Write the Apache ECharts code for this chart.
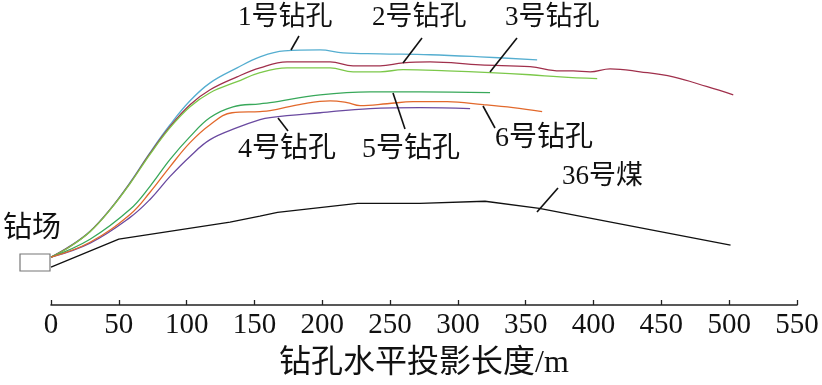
<!DOCTYPE html>
<html>
<head>
<meta charset="utf-8">
<script src="https://cdn.jsdelivr.net/npm/echarts@6/dist/echarts.min.js"></script>
<style>html,body{margin:0;padding:0;background:#fff}#c{width:822px;height:385px}</style>
</head>
<body>
<div id="c"></div>
<script>
// x: horizontal projection length (m); y: relative height (arbitrary units, axis hidden)
const xTicks = [0, 50, 100, 150, 200, 250, 300, 350, 400, 450, 500, 550];
const hole1 = [[0,16],[14,19.7],[28.8,24.7],[43.5,32],[58.3,41],[73,51],[87.8,60.3],[102.5,68.3],[117.3,74.3],[137.2,79.3],[154.1,83],[172,85],[198.4,85.3],[215.3,84.3],[242.6,84],[279.5,83.7],[316.4,83],[358.4,82]];
const hole2 = [[0,16],[14,19.6],[28.8,24.6],[43.5,31.9],[58.3,40.8],[73,50.7],[87.8,59.7],[102.5,67],[117.3,72],[137.2,76.3],[154.1,79.3],[174,81.3],[205.8,81.3],[222.7,80],[242.6,80],[259.6,81],[279.5,81.3],[316.4,80.3],[353.2,79.7],[375.4,78.3],[385,78.3],[397.5,78],[412.2,79],[434.4,78],[458.7,76.3],[483.8,73],[503,70.3]];
const hole3 = [[0,16],[14,19.5],[28.8,24.5],[43.5,31.8],[58.3,40.6],[73,50.4],[87.8,59.3],[102.5,66.3],[117.3,71],[137.2,74.7],[154.1,77.7],[174,79.3],[205.8,79.3],[222.7,78],[242.6,78],[259.6,78.7],[292,78.3],[323.7,77.7],[353.2,77],[375.4,76.3],[402.7,75.7]];
const hole4 = [[0,16],[28.8,20.7],[58.3,29.3],[73,35.3],[87.8,43],[102.5,49.7],[117.3,55.3],[137.2,59.3],[154.1,62],[161.5,62.7],[198.4,64.3],[235.3,65.7],[272.1,66],[309,65.7]];
const hole5 = [[0,16],[28.8,22],[58.3,32],[73,39.7],[87.8,48.7],[102.5,56.3],[117.3,62.7],[134.2,66.3],[154.1,67.3],[161.5,67.7],[198.4,70.3],[235.3,71.3],[272.1,71.3],[323.7,71]];
const hole6 = [[0,16],[28.8,21],[58.3,30.3],[73,37.7],[87.8,46.3],[102.5,54.3],[117.3,60.3],[133.5,64.3],[154.1,64.7],[161.5,65],[185.8,67.3],[205.8,68.3],[218.3,67.7],[227.9,66.7],[247.8,67.3],[267,68],[292,68],[318.6,67],[340.7,66],[362.1,64.7]];
const coal36 = [[0,12.7],[50,22],[132,27.7],[154,29.7],[167,31],[226,34],[272,34],[320,34.7],[360,32.3],[501,20]];
const seriesNames = ['1号钻孔','2号钻孔','3号钻孔','4号钻孔','5号钻孔','6号钻孔','36号煤'];
const axisName = '钻孔水平投影长度/m';
const siteName = '钻场';

const FONT = "'Liberation Serif','Noto Sans CJK SC',serif";
const colors = ['#55aed0','#a0304c','#7cc84a','#6a4aa0','#38a85a','#e2692c','#111111'];
const datas = [hole1, hole2, hole3, hole4, hole5, hole6, coal36];

const chart = echarts.init(document.getElementById('c'), null, {renderer:'canvas'});
const series = datas.map((d, i) => ({
  name: seriesNames[i], type: 'line', data: d, showSymbol: false, symbol: 'none',
  smooth: i < 6 ? 0.4 : false, lineStyle: {color: colors[i], width: 1.3}, z: 3, silent: true
}));

function txt(t, x, y, size) {
  return {type:'text', left: x, top: y, style:{text:t, fill:'#111', font: size + 'px ' + FONT}};
}
function ln(x1,y1,x2,y2){
  return {type:'line', shape:{x1,y1,x2,y2}, style:{stroke:'#111', lineWidth:1.6}, z:10};
}
chart.setOption({
  animation: false,
  backgroundColor: '#fff',
  grid: {left: 51, right: 25, top: 6, bottom: 79},
  xAxis: {
    type: 'value', min: 0, max: 550, interval: 50,
    axisLine: {show: true, lineStyle: {color: '#222', width: 1.6}},
    axisTick: {show: true, inside: true, length: 5, lineStyle: {color: '#222', width: 1.3}},
    splitLine: {show: false},
    axisLabel: {color: '#111', fontSize: 29, fontFamily: FONT, margin: 6,
      formatter: v => String(v)},
    name: axisName, nameLocation: 'middle', nameGap: 43,
    nameTextStyle: {color: '#111', fontSize: 32, fontFamily: FONT}
  },
  yAxis: {type: 'value', min: 0, max: 100, show: false},
  series: series,
  graphic: [
    {type:'rect', shape:{x:20, y:254, width:30, height:17}, style:{fill:'#fff', stroke:'#777', lineWidth:1.2}, z:5},
    txt(siteName, 3, 215, 29),
    txt(seriesNames[0], 238, 4, 27),
    txt(seriesNames[1], 372, 4, 27),
    txt(seriesNames[2], 505, 4, 27),
    txt(seriesNames[3], 238, 136, 28),
    txt(seriesNames[4], 362, 136, 28),
    txt(seriesNames[5], 495, 125, 28),
    txt(seriesNames[6], 562, 163, 27),
    ln(291,50,299,36),
    ln(403,63,422,38),
    ln(490,72,517,38),
    ln(278,118,288,131),
    ln(393,93,405,129),
    ln(483,106,495,128),
    ln(537,212,558,188)
  ]
});
</script>
</body>
</html>
